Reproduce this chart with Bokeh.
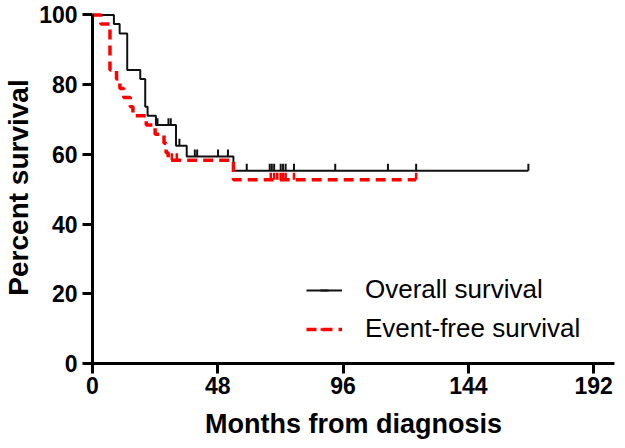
import numpy as np
from bokeh.plotting import figure
from bokeh.models import Range1d, FixedTicker, Legend, LegendItem, ColumnDataSource
from bokeh.embed import file_html
from bokeh.resources import INLINE

# ---- data ----
os_times = [0, 8.2, 10.4, 13.3, 18.3, 20.2, 21.1, 24.3, 32.0, 36.1, 54.0, 167.0]
os_values = [100, 97.4, 94.7, 84.2, 81.6, 73.7, 71.1, 68.4, 62.5, 59.4, 55.3, 55.3]
os_censor_times = [24.9, 29.1, 30.0, 33.3, 39.2, 40.1, 48.1, 51.9, 59.1, 67.9, 68.7,
                   69.6, 72.1, 73.0, 74.0, 77.2, 93.0, 113.2, 124.0, 167.0]

efs_times = [0, 3.2, 6.7, 9.2, 10.5, 12.0, 14.5, 15.5, 20.6, 24.0, 27.4, 28.2, 29.0, 54.0, 124.0]
efs_values = [100, 97.4, 84.2, 81.6, 78.9, 76.3, 73.7, 71.1, 68.4, 65.8, 63.2, 60.5, 58.3, 52.7, 52.7]
efs_censor_times = [30.4, 32.3, 68.3, 69.6, 70.8, 72.1, 73.0, 74.0, 77.2, 124.0]

x_ticks = [0, 48, 96, 144, 192]
y_ticks = [0, 20, 40, 60, 80, 100]
series_names = ["Overall survival", "Event-free survival"]


def step_value(times, values, t):
    idx = np.searchsorted(times, t, side="right") - 1
    return [values[i] for i in idx]


FONT = "Liberation Sans"

p = figure(width=617, height=446, output_backend="svg", toolbar_location=None,
           x_range=Range1d(0, 200), y_range=Range1d(0, 101),
           min_border_left=87, min_border_top=11, min_border_bottom=83, min_border_right=3)
p.outline_line_color = None
p.grid.visible = False
p.background_fill_color = "white"

# curves
os_line = p.step(os_times, os_values, mode="after", line_color="#111111", line_width=2)
efs_line = p.step(efs_times, efs_values, mode="after", line_color="#ff0000", line_width=3.5,
                  line_dash="10 6")

# censor ticks (small upward marks)
os_cv = step_value(os_times, os_values, os_censor_times)
efs_cv = step_value(efs_times, efs_values, efs_censor_times)
os_src = ColumnDataSource(dict(x=os_censor_times, y=[v + 1.0 for v in os_cv]))
efs_src = ColumnDataSource(dict(x=efs_censor_times, y=[v + 1.0 for v in efs_cv]))
os_tick = p.scatter("x", "y", source=os_src, marker="dash", angle=np.pi / 2, size=7,
                    line_color="#111111", line_width=2)
efs_tick = p.scatter("x", "y", source=efs_src, marker="dash", angle=np.pi / 2, size=7,
                     line_color="#ff0000", line_width=2.5)

# axes
for ax in (p.xaxis[0], p.yaxis[0]):
    ax.axis_line_width = 3
    ax.axis_line_color = "black"
    ax.major_tick_line_width = 3
    ax.major_tick_line_color = "black"
    ax.major_tick_out = 10
    ax.major_tick_in = 0
    ax.minor_tick_line_color = None
    ax.major_label_text_font = FONT
    ax.major_label_text_font_style = "bold"
    ax.major_label_text_font_size = "23px"
    ax.major_label_text_color = "black"
    ax.axis_label_text_font = FONT
    ax.axis_label_text_font_style = "bold"
    ax.axis_label_text_color = "black"

p.xaxis[0].axis_label_text_font_size = "27px"
p.yaxis[0].axis_label_text_font_size = "28px"
p.xaxis[0].ticker = FixedTicker(ticks=x_ticks)
p.yaxis[0].ticker = FixedTicker(ticks=y_ticks)
p.yaxis[0].bounds = (0, 100)
p.xaxis[0].axis_label = "Months from diagnosis"
p.yaxis[0].axis_label = "Percent survival"
p.xaxis[0].major_label_standoff = 3
p.yaxis[0].major_label_standoff = 5
p.xaxis[0].axis_label_standoff = 12
p.yaxis[0].axis_label_standoff = 2

legend = Legend(items=[LegendItem(label=series_names[0], renderers=[os_line, os_tick]),
                       LegendItem(label=series_names[1], renderers=[efs_line, efs_tick])],
                location=(214, 19), glyph_width=36, glyph_height=20, label_standoff=23,
                spacing=8, padding=0, margin=0, border_line_color=None,
                background_fill_alpha=0, label_text_font=FONT,
                label_text_font_size="26px", label_text_color="black")
p.add_layout(legend)

open("out.html", "w").write(file_html(p, INLINE))
